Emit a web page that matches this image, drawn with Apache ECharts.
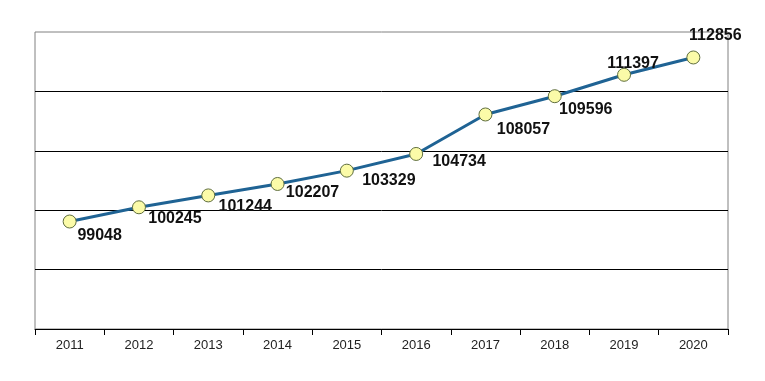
<!DOCTYPE html>
<html>
<head>
<meta charset="utf-8">
<script src="https://cdn.jsdelivr.net/npm/echarts@6/dist/echarts.min.js"></script>
<style>html,body{margin:0;padding:0;background:#fff}#c{width:765px;height:381px}</style>
</head>
<body>
<div id="c"></div>
<script>
var years = ['2011','2012','2013','2014','2015','2016','2017','2018','2019','2020'];
var values = [99048, 100245, 101244, 102207, 103329, 104734, 108057, 109596, 111397, 112856];
var labelOffsets = [[30,14],[36,11],[37,11],[35,9],[42,10],[43,8],[38,15],[31,13],[9,-11],[22,-22]];

var chart = echarts.init(document.getElementById('c'), null, {renderer:'canvas'});
chart.setOption({
  animation: false,
  backgroundColor: '#fff',
  grid: {left: 35, right: 37, top: 32, bottom: 52, show: true, borderColor: '#808080', borderWidth: 1, backgroundColor: 'transparent'},
  xAxis: {
    type: 'category', data: years, boundaryGap: true,
    axisLine: {lineStyle: {color: '#000', width: 1}},
    axisTick: {show: true, length: 6, lineStyle: {color: '#000'}},
    axisLabel: {color: '#222', fontFamily: 'Arial, Liberation Sans', fontSize: 13, margin: 10}
  },
  yAxis: {
    type: 'value', min: 90000, max: 115000, interval: 5000,
    axisLine: {show: false}, axisTick: {show: false}, axisLabel: {show: false},
    splitLine: {show: true, showMinLine: false, showMaxLine: false, lineStyle: {color: '#000', width: 1}}
  },
  series: [{
    type: 'line',
    data: values.map(function(v, i){
      return {value: v, label: {offset: labelOffsets[i]}};
    }),
    lineStyle: {color: '#1f6394', width: 3},
    symbol: 'circle', symbolSize: 13,
    itemStyle: {color: '#fbfba8', borderColor: '#5f6e3e', borderWidth: 1},
    label: {
      show: true, position: 'inside', align: 'center', verticalAlign: 'middle',
      color: '#111', fontWeight: 'bold', fontSize: 16, fontFamily: 'Arial, Liberation Sans'
    },
    z: 5
  }]
});
</script>
</body>
</html>
